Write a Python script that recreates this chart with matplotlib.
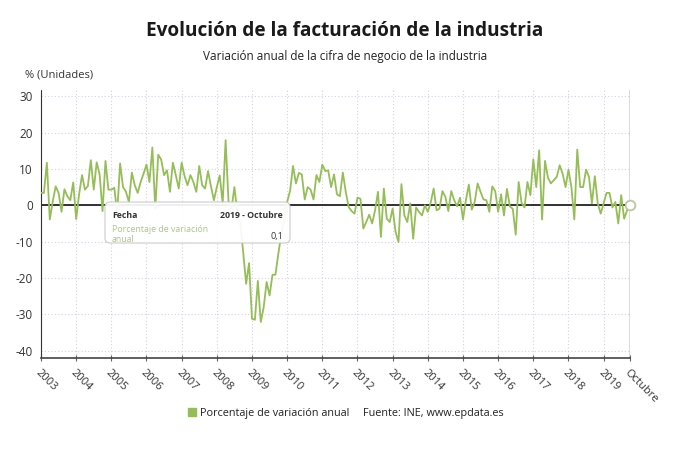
import numpy as np
import matplotlib
matplotlib.use("Agg")
import matplotlib.pyplot as plt
from matplotlib.patches import FancyBboxPatch, Patch

plt.rcParams['font.family'] = ['Open Sans', 'DejaVu Sans']

# variacion anual (%) de la cifra de negocio, mensual ene-2003 .. oct-2019
v2003 = [3.4, 3.4, 11.7, -3.9, 1.0, 5.2, 3.4, -1.8, 4.4, 2.5, 1.4, 6.3]
v2004 = [-3.8, 3.0, 8.3, 4.3, 5.3, 12.4, 4.3, 11.8, 8.5, -1.6, 12.2, 4.3]
v2005 = [4.3, 4.8, -2.0, 11.5, 5.0, 3.7, 0.9, 9.0, 5.5, 3.4, 6.4, 8.7]
v2006 = [11.2, 6.4, 15.9, -1.0, 13.9, 12.6, 8.3, 9.6, 3.7, 11.7, 8.3, 4.6]
v2007 = [11.7, 8.0, 5.5, 8.3, 6.4, 3.7, 10.8, 5.5, 4.6, 9.4, 5.2, 1.4]
v2008 = [5.0, 8.2, 0.5, 17.9, 0.9, -1.0, 5.0, -2.0, -5.0, -12.9, -21.6, -15.9]
v2009 = [-31.2, -31.5, -20.8, -32.1, -28.0, -21.1, -24.8, -19.1, -19.1, -13.3, -8.0, -4.0]
v2010 = [0.9, 4.0, 10.8, 6.0, 8.9, 8.5, 1.6, 5.0, 4.3, 1.6, 8.3, 6.4]
v2011 = [11.2, 9.4, 9.6, 5.0, 8.5, 3.0, 2.5, 9.0, 3.7, -0.5, -1.6, -2.3]
v2012 = [2.1, 1.8, -6.4, -4.6, -2.6, -5.0, -1.4, 3.7, -8.7, 4.6, -3.7, -4.6]
v2013 = [-0.9, -7.3, -10.1, 5.8, -2.8, -4.6, 0.5, -9.2, -0.6, -1.8, -2.8, 0.0]
v2014 = [-1.8, 0.8, 4.6, -1.4, -0.9, 3.9, 2.3, -1.6, 3.9, 1.4, -0.3, 2.1]
v2015 = [-3.9, 1.4, 5.7, -1.2, 0.9, 6.0, 3.7, 1.6, 1.4, -1.8, 5.2, 3.9]
v2016 = [-1.8, 3.0, -2.8, 4.5, -0.3, -1.0, -8.1, 6.4, 0.6, -0.6, 6.4, 2.8]
v2017 = [12.6, 5.0, 15.1, -3.9, 12.2, 7.6, 6.0, 6.9, 7.8, 11.0, 8.7, 5.0]
v2018 = [9.8, 5.0, -3.9, 15.3, 5.0, 5.0, 9.8, 7.8, 0.5, 8.0, 0.5, -2.3]
v2019 = [0.5, 3.4, 3.4, -0.6, 0.9, -5.0, 2.8, -3.7, -1.4, 0.1]

years = list(range(2003, 2020))
x_labels = [str(y) for y in years] + ['Octubre']
y_ticks = [30, 20, 10, 0, -10, -20, -30, -40]

values = np.array(v2003 + v2004 + v2005 + v2006 + v2007 + v2008 + v2009 +
                  v2010 + v2011 + v2012 + v2013 + v2014 + v2015 + v2016 +
                  v2017 + v2018 + v2019)
months = np.arange(len(values))

green = '#95bd58'
W, H = 690, 465


def px(x, y):
    # pixel position (from top-left) -> figure fraction
    return x / W, 1 - y / H


fig = plt.figure(figsize=(6.9, 4.65), dpi=100)
ax = fig.add_axes([41 / W, 1 - 358 / H, (630 - 41) / W, (358 - 90) / H])

ax.plot(months, values, color=green, lw=1.3, zorder=3)
ax.axhline(0, color='#222222', lw=1.3, zorder=2)
ax.axvline(months[-1], color='#555555', lw=1.0, zorder=2)
ax.plot(months[-1], values[-1], 'o', ms=7, mfc='white', mec='#b8c8a0',
        mew=1.3, zorder=5, clip_on=False)

xt = [12 * i for i in range(len(years))] + [months[-1]]
ax.set_xticks(xt)
ax.set_xticklabels(x_labels, rotation=-45, ha='left', va='top',
                   rotation_mode='anchor', fontsize=8, color='#333333')
ax.set_yticks(y_ticks)
ax.set_yticklabels([str(v) for v in y_ticks], fontsize=8.5, color='#333333')
ax.set_xlim(0, months[-1])
ax.set_ylim(-42, 31.7)

ax.grid(True, color='#d6d0e2', linestyle=(0, (1, 2)), lw=0.8)
ax.set_axisbelow(True)
for s in ['top', 'right']:
    ax.spines[s].set_visible(False)
ax.spines['left'].set_linestyle((0, (1, 1)))
ax.spines['left'].set_color('#333333')
ax.spines['bottom'].set_color('#444444')
ax.spines['bottom'].set_linewidth(1.2)
ax.tick_params(axis='y', length=0, pad=6)
ax.tick_params(axis='x', direction='inout', length=5, color='#666666', pad=4)

# titles
fig.text(*px(345, 31), 'Evolución de la facturación de la industria',
         ha='center', va='center', fontsize=13.7, fontweight='bold', color='#1a1a1a')
fig.text(*px(345, 56), 'Variación anual de la cifra de negocio de la industria',
         ha='center', va='center', fontsize=8.5, color='#222222')
fig.text(*px(25, 75), '% (Unidades)', ha='left', va='center',
         fontsize=8, color='#333333')

# tooltip
box = FancyBboxPatch((105 / 100, (H - 243) / 100), (290 - 105) / 100, 41 / 100,
                     boxstyle='round,pad=0,rounding_size=0.05',
                     transform=fig.dpi_scale_trans, facecolor='white',
                     edgecolor='#c8c8c8', lw=0.8, alpha=0.93, zorder=10)
fig.add_artist(box)
fig.text(*px(112, 215), 'Fecha', ha='left', va='center', fontsize=6.3,
         fontweight='bold', color='#333333', zorder=11)
fig.text(*px(283, 215), '2019 - Octubre', ha='right', va='center', fontsize=6.3,
         fontweight='bold', color='#333333', zorder=11)
fig.text(*px(112, 229), 'Porcentaje de variación', ha='left', va='center',
         fontsize=6.3, color='#a9c97c', zorder=11)
fig.text(*px(112, 239), 'anual', ha='left', va='center',
         fontsize=6.3, color='#a9c97c', zorder=11)
fig.text(*px(283, 236), '0,1', ha='right', va='center', fontsize=6.5,
         color='#333333', zorder=11)

# legend + source
leg = fig.legend(handles=[Patch(color=green, label='Porcentaje de variación anual')],
                 loc='center left', bbox_to_anchor=px(184, 413), frameon=False,
                 handlelength=0.7, handleheight=0.7, handletextpad=0.4,
                 fontsize=7.8, borderaxespad=0)
for t in leg.get_texts():
    t.set_color('#222222')
fig.text(*px(363, 413), 'Fuente: INE, www.epdata.es', ha='left', va='center',
         fontsize=7.8, color='#222222')

fig.savefig('out.png', dpi=100)
